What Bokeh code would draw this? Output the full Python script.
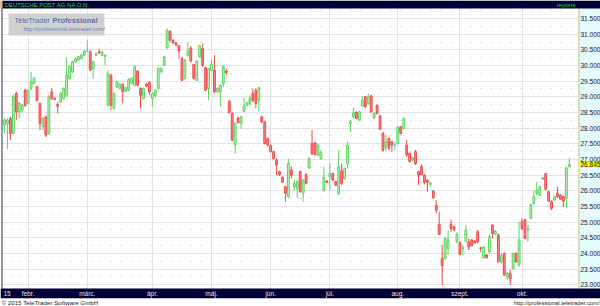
from bokeh.plotting import figure
from bokeh.models import (ColumnDataSource, Range1d, FixedTicker, Label, BoxAnnotation, Grid)
from bokeh.core.properties import value
from bokeh.embed import file_html
from bokeh.resources import INLINE

# ---------------- data ----------------
title = "DEUTSCHE POST AG NA O.N."
month_labels = ["febr.", "márc.", "ápr.", "máj.", "jún.", "júl.", "aug.", "szept.", "okt."]
month_first = [8, 28, 50, 70, 90, 110, 133, 154, 175]
year_label = "15"
last_price = 26.845
price_ticks = [23.0, 23.5, 24.0, 24.5, 25.0, 25.5, 26.0, 26.5, 27.0, 27.5, 28.0,
               28.5, 29.0, 29.5, 30.0, 30.5, 31.0, 31.5]

open_ = [28.10, 28.15, 28.31, 27.83, 29.11, 28.52, 28.58, 29.21, 28.79, 29.27, 29.43,
         29.32, 28.79, 28.04, 28.36, 27.83, 29.16, 28.95, 28.76, 28.84, 28.95, 29.05,
         29.59, 29.80, 30.12, 30.17, 30.22, 30.33, 30.46, 30.44, 29.90, 30.33, 30.44,
         30.33, 30.28, 28.73, 29.69, 28.63, 29.32, 29.27, 29.40, 29.18, 29.21, 29.43,
         29.37, 29.82, 29.27, 28.95, 29.40,
         29.46, 28.95, 29.03, 29.27, 29.80, 30.01, 30.56, 31.08, 30.81, 30.72, 30.63,
         30.22, 29.59, 30.33, 30.56, 30.03, 29.53, 30.28, 30.54, 29.93, 29.27, 29.85,
         29.85, 29.16, 29.16, 29.43, 29.82, 28.86, 28.47, 27.46, 28.33, 28.15, 28.54,
         28.73, 28.79, 29.11, 29.21, 28.89, 28.36, 28.20, 27.67, 27.44, 27.25, 26.98,
         26.61, 26.43, 26.13, 25.81,
         26.66, 26.13, 26.08, 26.61, 25.92, 26.52, 26.73, 27.51, 27.53, 27.14, 27.03,
         26.02, 26.31, 26.45, 26.55, 26.29, 25.92, 26.63, 26.39, 26.87, 28.15, 28.36,
         28.50, 28.26, 28.71, 29.00, 28.79, 29.03, 28.33, 28.73, 28.39, 27.83, 27.40,
         27.67, 27.56, 27.46, 27.51, 28.04, 27.99, 27.46, 27.19, 26.98, 27.25, 26.61,
         26.77, 26.50, 26.34, 26.20, 25.99,
         25.54, 24.93, 23.84, 23.84, 24.16, 24.93, 24.85, 24.37, 24.34, 24.16, 24.39,
         24.37, 24.43, 24.39, 24.69, 24.18, 23.86, 23.95, 24.05, 24.91, 24.61, 24.59,
         23.73, 24.00, 23.25, 23.36, 23.52, 24.00, 23.63, 25.01, 25.07, 24.75, 25.12,
         25.60, 25.92, 25.86, 26.37, 26.55, 25.97, 25.65, 25.70, 25.92, 25.86, 25.81,
         25.76, 26.77]
high = [28.31, 28.31, 28.36, 29.08, 29.16, 28.84, 28.78, 29.27, 29.25, 29.80, 29.64,
        29.36, 28.82, 28.36, 28.40, 29.05, 29.27, 28.98, 28.84, 29.14, 29.30, 30.28,
        30.00, 30.16, 30.26, 30.31, 30.36, 30.49, 30.81, 30.49, 30.15, 30.41, 30.54,
        30.47, 30.36, 29.85, 29.72, 29.14, 29.52, 29.43, 29.43, 29.32, 29.59, 29.62,
        30.01, 29.85, 29.30, 29.30, 29.45,
        29.50, 29.14, 29.24, 29.94, 29.94, 30.31, 31.18, 31.13, 30.84, 30.75, 30.66,
        30.26, 30.20, 30.76, 30.62, 30.06, 30.17, 30.66, 30.70, 29.96, 29.93, 30.17,
        30.33, 29.30, 29.40, 30.00, 29.90, 28.90, 28.50, 28.18, 28.36, 28.40, 28.97,
        28.84, 29.05, 29.27, 29.27, 29.32, 28.40, 28.24, 27.70, 27.47, 27.28, 27.03,
        26.64, 26.46, 26.16, 27.03,
        26.77, 26.34, 26.34, 26.64, 26.37, 26.55, 27.06, 27.94, 27.56, 27.50, 27.30,
        26.77, 26.34, 26.87, 26.58, 26.31, 27.30, 26.87, 26.74, 27.56, 28.26, 28.65,
        28.54, 28.55, 29.03, 29.03, 29.11, 29.06, 28.50, 28.76, 28.42, 27.88, 27.78,
        27.72, 27.59, 27.56, 28.07, 28.07, 28.34, 27.62, 27.22, 27.08, 27.30, 26.64,
        26.84, 26.53, 26.37, 26.29, 26.02,
        25.70, 25.33, 24.27, 24.51, 24.74, 25.07, 24.88, 24.67, 24.37, 24.27, 24.91,
        24.48, 24.46, 24.43, 24.75, 24.21, 24.24, 23.98, 24.59, 24.93, 24.75, 24.64,
        24.00, 24.03, 23.41, 23.47, 24.03, 24.03, 25.01, 25.12, 25.10, 24.91, 25.59,
        25.99, 26.29, 26.16, 26.45, 26.56, 26.00, 25.70, 25.84, 26.13, 25.89, 25.84,
        26.77, 27.05]
low = [27.83, 27.33, 27.62, 27.80, 28.26, 28.31, 28.50, 28.68, 28.75, 29.21, 29.40,
       28.85, 27.94, 27.94, 27.72, 27.78, 28.89, 28.90, 28.47, 28.80, 28.92, 29.00,
       29.55, 29.76, 30.10, 30.14, 30.20, 30.30, 30.44, 29.83, 29.59, 30.30, 30.38,
       30.31, 30.01, 28.68, 28.58, 28.60, 29.28, 29.24, 28.79, 29.15, 29.18, 29.40,
       29.34, 29.33, 28.63, 28.92, 29.30,
       29.05, 28.68, 28.98, 29.24, 29.77, 29.98, 30.54, 30.76, 30.70, 30.62, 30.22,
       29.50, 29.55, 30.28, 30.10, 29.55, 29.50, 30.25, 29.96, 29.18, 28.89, 29.82,
       29.11, 29.13, 28.68, 29.32, 29.69, 28.46, 27.58, 27.19, 28.15, 27.99, 28.52,
       28.70, 28.73, 28.84, 28.63, 28.54, 28.16, 27.48, 27.42, 27.22, 27.00, 26.50,
       26.48, 26.25, 25.65, 25.78,
       26.39, 26.02, 25.76, 25.94, 25.65, 26.20, 26.70, 27.14, 27.12, 27.10, 26.98,
       25.97, 26.24, 26.02, 26.31, 26.15, 25.86, 26.18, 26.36, 26.71, 27.88, 28.31,
       28.28, 28.23, 28.68, 28.65, 28.73, 28.49, 28.30, 28.44, 27.94, 27.25, 27.25,
       27.30, 27.25, 27.30, 27.48, 27.80, 27.96, 27.09, 26.90, 26.95, 26.82, 26.18,
       26.50, 26.20, 25.97, 26.13, 25.75,
       25.28, 24.59, 22.99, 23.80, 23.95, 24.69, 24.72, 24.32, 23.95, 23.95, 24.37,
       24.11, 24.22, 24.31, 24.32, 24.05, 23.84, 23.84, 24.00, 24.48, 24.58, 23.70,
       23.68, 23.28, 23.15, 22.99, 23.49, 23.70, 23.57, 24.75, 24.45, 24.37, 25.09,
       25.54, 25.86, 25.83, 26.34, 26.02, 25.64, 25.38, 25.67, 25.76, 25.70, 25.49,
       25.44, 26.75]
close = [28.26, 28.26, 27.83, 29.00, 28.52, 28.79, 28.73, 28.73, 29.21, 29.48, 29.59,
         28.89, 28.15, 28.31, 27.78, 29.00, 28.95, 28.92, 28.70, 29.11, 29.27, 29.69,
         29.96, 30.12, 30.22, 30.28, 30.33, 30.46, 30.46, 29.85, 30.12, 30.38, 30.40,
         30.44, 30.33, 29.74, 28.73, 29.11, 29.48, 29.40, 29.16, 29.29, 29.55, 29.59,
         29.96, 29.37, 29.05, 29.27, 29.34,
         29.16, 29.11, 29.21, 29.90, 29.90, 30.28, 31.13, 30.81, 30.72, 30.65, 30.46,
         29.53, 30.17, 30.46, 30.14, 29.59, 30.14, 30.63, 30.01, 29.21, 29.90, 30.03,
         29.16, 29.27, 29.37, 29.96, 29.78, 28.50, 27.62, 28.15, 28.18, 28.36, 28.73,
         28.81, 28.95, 28.89, 28.79, 29.29, 28.20, 27.51, 27.46, 27.25, 27.03, 26.82,
         26.52, 26.29, 25.92, 26.87,
         26.50, 26.24, 26.29, 25.97, 26.34, 26.24, 27.03, 27.19, 27.16, 27.46, 27.22,
         26.42, 26.27, 26.55, 26.34, 26.18, 26.77, 26.24, 26.71, 27.46, 28.20, 28.49,
         28.31, 28.52, 28.89, 28.68, 29.00, 28.52, 28.47, 28.47, 27.97, 27.30, 27.56,
         27.35, 27.46, 27.46, 28.04, 27.83, 28.31, 27.14, 26.93, 27.05, 26.87, 26.50,
         26.52, 26.27, 26.27, 26.24, 25.78,
         25.38, 24.61, 23.61, 24.48, 24.43, 24.80, 24.75, 24.61, 23.97, 24.18, 24.75,
         24.21, 24.25, 24.34, 24.37, 24.16, 24.21, 23.86, 24.53, 24.64, 24.71, 23.73,
         23.93, 23.31, 23.36, 23.20, 24.00, 23.73, 24.43, 24.80, 24.48, 24.80, 25.56,
         25.81, 26.02, 26.13, 26.42, 26.05, 25.67, 25.44, 25.81, 25.81, 25.73, 25.67,
         26.73, 26.845]

# ---------------- styling / geometry ----------------
NAVY = "#000038"
AXIS_BG = "#e4fbfb"
UP_LINE, UP_FILL = "#5ad25a", "#c4f2c4"
DN_LINE, DN_FILL = "#f04848", "#f88a8a"
EQ_LINE = "#33d0ff"
FONT = "Liberation Sans"
W, H = 600, 306
FRAME_R = 578          # right edge of the price pane (px)
PANE_T, PANE_B = 8, 288  # top / bottom of the price pane (px)
BAR_B = 298            # bottom of the month bar (px)

# price pane maps index -1.35..194.1 onto px 0..578 and price 31.82..22.88 onto rows 8..288
XS = (194.1 + 1.35) / FRAME_R
YS = (31.82 - 22.88) / (PANE_B - PANE_T)
X0, X1 = -1.35, -1.35 + W * XS
Y1 = 31.82 + PANE_T * YS
Y0 = Y1 - H * YS

def px_x(px):
    return X0 + px * XS

def px_y(row):
    return Y1 - row * YS

n = len(close)
idx = list(range(n))
line_c, fill_c, tops, bots = [], [], [], []
for o, c in zip(open_, close):
    if c > o:
        line_c.append(UP_LINE); fill_c.append(UP_FILL)
    elif c < o:
        line_c.append(DN_LINE); fill_c.append(DN_FILL)
    else:
        line_c.append(EQ_LINE); fill_c.append(EQ_LINE)
    tops.append(max(o, c)); bots.append(min(o, c))

src = ColumnDataSource(dict(x=idx, open=open_, high=high, low=low, close=close,
                            top=tops, bottom=bots, line=line_c, fill=fill_c))

p = figure(width=W, height=H, x_range=Range1d(X0, X1), y_range=Range1d(Y0, Y1),
           toolbar_location=None, output_backend="svg", min_border=0,
           x_axis_location=None, y_axis_location=None,
           background_fill_color="white", border_fill_color="white",
           outline_line_color=None)
p.grid.visible = False

# grids
minor_y = [t + 0.25 for t in price_ticks[:-1]] + [31.75]
p.add_layout(Grid(dimension=1, ticker=FixedTicker(ticks=price_ticks, minor_ticks=minor_y),
                  grid_line_color="#e2e2e2", grid_line_width=1,
                  minor_grid_line_color="#c4c4c4", minor_grid_line_dash="1 9"))
p.add_layout(Grid(dimension=0, ticker=FixedTicker(ticks=month_first),
                  grid_line_color="#e2e2e2", grid_line_width=1))

# candles
p.segment(x0="x", y0="low", x1="x", y1="high", line_color="line", line_width=1, source=src)
p.vbar(x="x", width=0.62, top="top", bottom="bottom", fill_color="fill", line_color="line",
       line_width=1, source=src)

def box(l, r, t, b, color, alpha=1.0):
    p.add_layout(BoxAnnotation(left=px_x(l), right=px_x(r), top=px_y(t), bottom=px_y(b),
                               fill_color=color, fill_alpha=alpha, line_color=None))

# panels
box(FRAME_R, W, PANE_T, PANE_B, AXIS_BG)               # price scale pane
box(FRAME_R, FRAME_R + 1, PANE_T, PANE_B, "#c8c070")   # its left edge
box(1, 2, PANE_T, PANE_B, "#303050")                   # left edge of chart pane
box(0, W, 0, PANE_T, NAVY)                             # title bar
box(0, 2, 0, PANE_T, "#ffd000")                        # yellow marker
box(0, W, PANE_B, BAR_B, NAVY)                         # month bar
box(0, W, BAR_B, H, "white")                           # copyright line

# watermark
box(8, 104, 13, 35, "#c9c9c9", 0.85)
p.add_layout(Label(x=px_x(14), y=px_y(20), text="TeleTrader", text_font=FONT,
                   text_font_size="7.5px", text_color="#5a72a8", text_baseline="middle"))
p.add_layout(Label(x=px_x(52), y=px_y(20), text="Professional", text_font=FONT,
                   text_font_size="7.5px", text_font_style="bold", text_color="#5a72a8",
                   text_baseline="middle"))
p.add_layout(Label(x=px_x(23), y=px_y(28.5), text="http://professional.teletrader.com/",
                   text_font=FONT, text_font_size="5.5px", text_color="#6a7fb0",
                   text_baseline="middle"))

# title bar texts
p.add_layout(Label(x=px_x(4), y=px_y(4), text=title, text_font=FONT, text_font_size="6px",
                   text_color="#22dd22", text_baseline="middle"))
p.add_layout(Label(x=px_x(575), y=px_y(4), text="reports", text_font=FONT,
                   text_font_size="6px", text_color="#22dd22", text_baseline="middle",
                   text_align="right"))

# price scale labels (placed with the price scale of the chart)
tick_src = ColumnDataSource(dict(y=price_ticks, t=[f"{v:.3f}" for v in price_ticks],
                                 x=[px_x(580)] * len(price_ticks)))
p.text(x="x", y="y", text="t", source=tick_src, text_font=value(FONT),
       text_font_size="6.5px", text_color="#101040", text_baseline="middle",
       text_align="left", level="overlay")
p.add_layout(Label(x=px_x(579), y=last_price, text=f"{last_price:.3f}", text_font=FONT,
                   text_font_size="6.5px", text_color="#101040", text_baseline="middle",
                   background_fill_color="#ffff00", padding=1))

# month labels
msrc = ColumnDataSource(dict(x=month_first, y=[px_y(293)] * len(month_first), t=month_labels))
p.text(x="x", y="y", text="t", source=msrc, text_font=value(FONT),
       text_font_size="6.5px", text_color="#e8e8d0", text_align="center",
       text_baseline="middle", level="overlay")
p.add_layout(Label(x=px_x(3), y=px_y(293), text=year_label, text_font=FONT,
                   text_font_size="6.5px", text_color="#e8e8d0", text_baseline="middle"))

# copyright line
p.add_layout(Label(x=px_x(1), y=px_y(302), text="© 2015 TeleTrader Software GmbH",
                   text_font=FONT, text_font_size="6.2px", text_color="#222222",
                   text_baseline="middle"))
p.add_layout(Label(x=px_x(599), y=px_y(302), text="http://professional.teletrader.com/",
                   text_font=FONT, text_font_size="5.8px", text_color="#222222",
                   text_baseline="middle", text_align="right"))

open("out.html", "w").write(file_html(p, INLINE))
